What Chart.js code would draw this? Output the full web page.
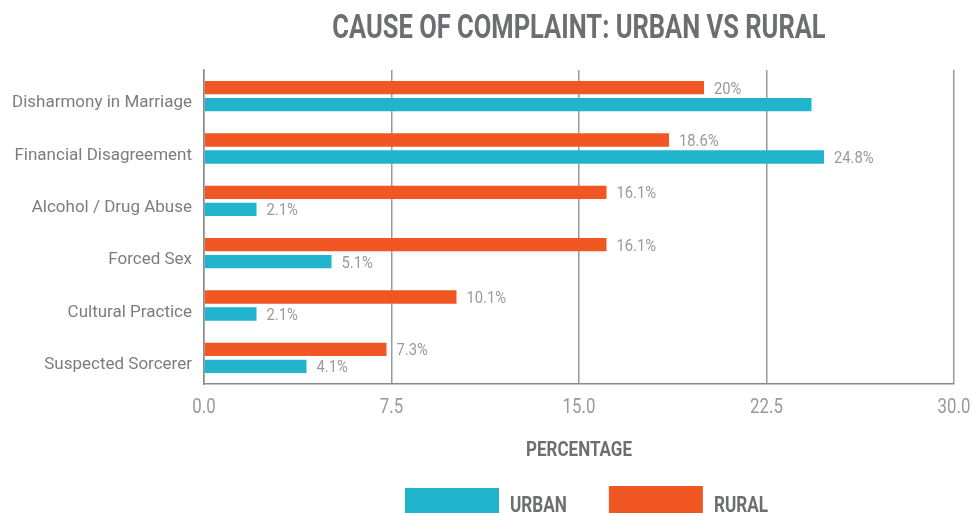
<!DOCTYPE html>
<html>
<head>
<meta charset="utf-8">
<script src="https://cdn.jsdelivr.net/npm/chart.js@4"></script>
<style>
  html, body { margin: 0; padding: 0; background: #fff; }
  #wrap { width: 976px; height: 513px; }
</style>
</head>
<body>
<div id="wrap"><canvas id="grafico"></canvas></div>
<script>
// Datos del gráfico
const categorias = ['Disharmony in Marriage', 'Financial Disagreement', 'Alcohol / Drug Abuse', 'Forced Sex', 'Cultural Practice', 'Suspected Sorcerer'];
const rural = [20, 18.6, 16.1, 16.1, 10.1, 7.3];
const urban = [24.3, 24.8, 2.1, 5.1, 2.1, 4.1];
const etiquetasRural = ['20%', '18.6%', '16.1%', '16.1%', '10.1%', '7.3%'];
const etiquetasUrban = ['', '24.8%', '2.1%', '5.1%', '2.1%', '4.1%'];
const ticksX = [0, 7.5, 15, 22.5, 30];

const GRIS = '#6d6e71';

// Texto estrechado horizontalmente (imita una fuente condensada)
function texto(ctx, str, x, y, font, color, escala, align) {
    ctx.save();
    ctx.font = font;
    ctx.fillStyle = color;
    ctx.textBaseline = 'alphabetic';
    const w = ctx.measureText(str).width * escala;
    let x0 = x;
    if (align === 'center') x0 = x - w / 2;
    ctx.translate(x0, y);
    ctx.scale(escala, 1);
    ctx.textAlign = 'left';
    ctx.fillText(str, 0, 0);
    ctx.restore();
    return w;
}

// Etiquetas de valor, título, ticks del eje x y leyenda
const decoracionPlugin = {
    id: 'decoracion',
    afterDatasetsDraw(chart) {
        const ctx = chart.ctx;
        const listas = [etiquetasRural, etiquetasUrban];
        chart.data.datasets.forEach((ds, i) => {
            chart.getDatasetMeta(i).data.forEach((bar, j) => {
                const txt = listas[i][j];
                if (txt) texto(ctx, txt, bar.x + 10, bar.y + 6, '17px Roboto, sans-serif', '#9a9a9a', 0.87, 'left');
            });
        });
    },
    afterDraw(chart) {
        const ctx = chart.ctx;
        const area = chart.chartArea;
        const cx = (area.left + area.right) / 2;

        // título
        texto(ctx, 'CAUSE OF COMPLAINT: URBAN VS RURAL', cx, 38, 'bold 34px Roboto, sans-serif', GRIS, 0.75, 'center');

        // ticks del eje x
        const sx = chart.scales.x;
        ticksX.forEach(v => {
            texto(ctx, v.toFixed(1), sx.getPixelForValue(v), 413, '21px Roboto, sans-serif', '#999999', 0.8, 'center');
        });

        // título del eje x
        texto(ctx, 'PERCENTAGE', cx, 456, 'bold 20px Roboto, sans-serif', GRIS, 0.85, 'center');

        // leyenda (urban primero)
        const items = [chart.data.datasets[1], chart.data.datasets[0]];
        let x = cx - 174;
        items.forEach((ds, k) => {
            ctx.fillStyle = ds.backgroundColor;
            ctx.fillRect(x, k === 0 ? 488 : 486, 94, 30);
            x += 94 + 11;
            const w = texto(ctx, ds.label, x, 512, 'bold 22px Roboto, sans-serif', GRIS, 0.78, 'left');
            x += w + 42;
        });
    }
};

new Chart(document.getElementById('grafico'), {
    type: 'bar',
    data: {
        labels: categorias,
        datasets: [{
            label: 'RURAL',
            data: rural,
            backgroundColor: '#f05722'
        }, {
            label: 'URBAN',
            data: urban,
            backgroundColor: '#21b5cd'
        }]
    },
    options: {
        indexAxis: 'y',
        responsive: true,
        maintainAspectRatio: false,
        animation: false,
        categoryPercentage: 0.65,
        barPercentage: 0.78,
        layout: { padding: { left: 0, right: 22, top: 70, bottom: 129 } },
        scales: {
            x: {
                min: 0,
                max: 30,
                afterBuildTicks: scale => { scale.ticks = ticksX.map(v => ({ value: v })); },
                ticks: { display: false },
                grid: { color: '#9a9a9a', lineWidth: 1.5, drawTicks: false },
                border: { display: true, color: '#8a8a8a', width: 1.5 }
            },
            y: {
                afterFit: scale => { scale.width = 204; },
                ticks: {
                    color: '#7d7d7d',
                    font: { family: 'Roboto, sans-serif', size: 17 },
                    padding: 12,
                    labelOffset: 7
                },
                grid: { display: false, drawTicks: false },
                border: { display: true, color: '#8a8a8a', width: 1.5 }
            }
        },
        plugins: {
            legend: { display: false },
            title: { display: false },
            tooltip: { enabled: false }
        }
    },
    plugins: [decoracionPlugin]
});
</script>
</body>
</html>
